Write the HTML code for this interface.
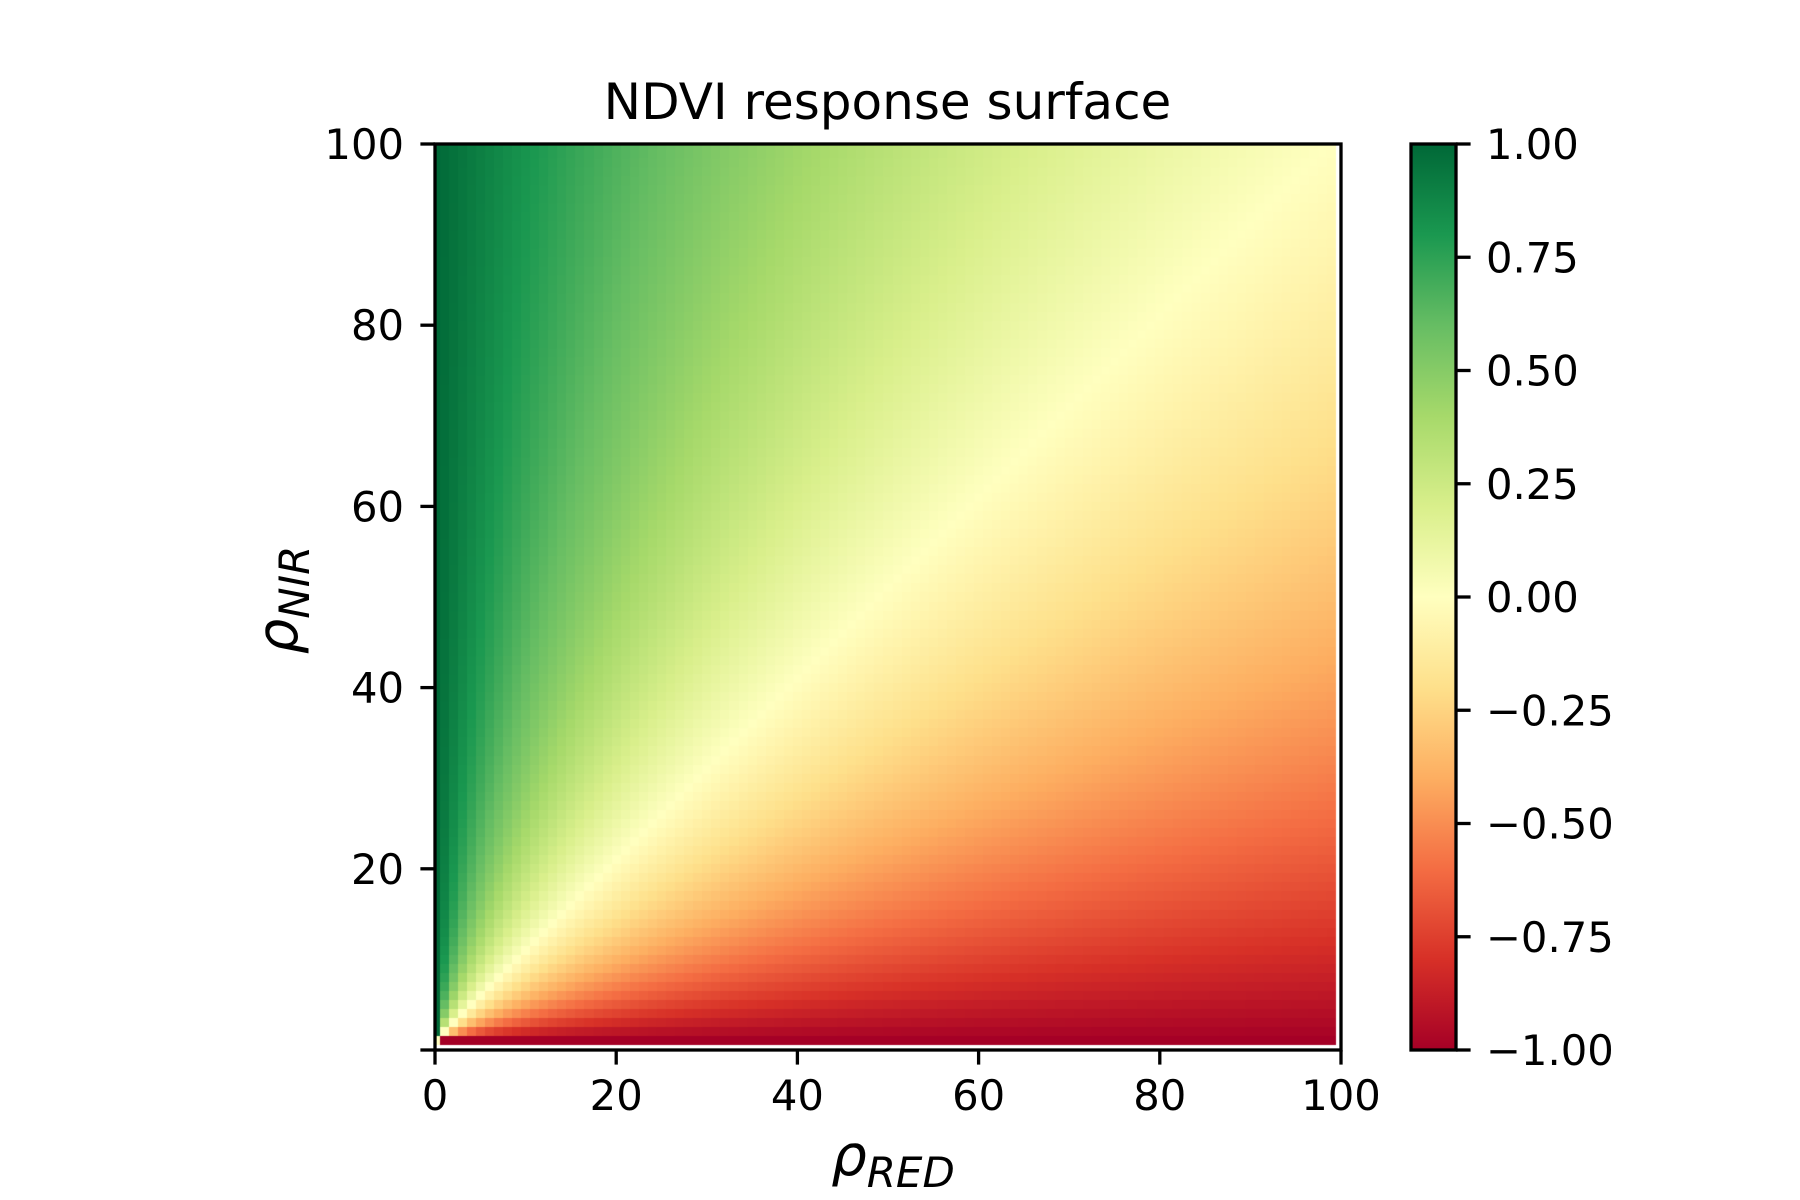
<!DOCTYPE html>
<html><head><meta charset="utf-8">
<style>
html,body{margin:0;padding:0;background:#fff;}
#wrap{position:relative;width:1800px;height:1200px;overflow:hidden;background:#fff;}
canvas{position:absolute;left:0;top:0;}
svg{position:absolute;left:0;top:0;}
text{font-family:"DejaVu Sans","Liberation Sans",sans-serif;fill:#000;}
</style></head>
<body><div id="wrap">
<canvas id="c" width="1800" height="1200"></canvas>
<svg width="1800" height="1200" viewBox="0 0 1800 1200">
<defs>
<linearGradient id="cm" x1="0" y1="1" x2="0" y2="0">
<stop offset="0" stop-color="#a50026"/><stop offset="0.1" stop-color="#d73027"/>
<stop offset="0.2" stop-color="#f46d43"/><stop offset="0.3" stop-color="#fdae61"/>
<stop offset="0.4" stop-color="#fee08b"/><stop offset="0.5" stop-color="#ffffbf"/>
<stop offset="0.6" stop-color="#d9ef8b"/><stop offset="0.7" stop-color="#a6d96a"/>
<stop offset="0.8" stop-color="#66bd63"/><stop offset="0.9" stop-color="#1a9850"/>
<stop offset="1" stop-color="#006837"/>
</linearGradient>
</defs>
<text x="887.5" y="119" font-size="50" text-anchor="middle">NDVI response surface</text>
<rect x="435" y="144" width="906" height="906" fill="none" stroke="#000" stroke-width="3.3"/>
<g stroke="#000" stroke-width="3.3" id="ticks"></g>
<g font-size="41.7" id="labels"></g>
<rect x="1411" y="144" width="45" height="906" fill="url(#cm)" stroke="#000" stroke-width="3.3"/>
<text x="893" y="1175" font-size="56" font-style="italic" text-anchor="middle">ρ<tspan font-size="42" dy="12">RED</tspan></text>
<text transform="translate(297,600) rotate(-90)" font-size="56" font-style="italic" text-anchor="middle">ρ<tspan font-size="42" dy="12">NIR</tspan></text>
</svg>
</div>
<script>
function lerp(a,b,t){return a+(b-a)*t;}
var stops=["#a50026","#d73027","#f46d43","#fdae61","#fee08b","#ffffbf","#d9ef8b","#a6d96a","#66bd63","#1a9850","#006837"].map(function(h){return [parseInt(h.substr(1,2),16),parseInt(h.substr(3,2),16),parseInt(h.substr(5,2),16)];});
function cmap(v){var t=(v+1)/2;t=Math.max(0,Math.min(1,t));var f=t*10;var i=Math.min(9,Math.floor(f));var u=f-i;var a=stops[i],b=stops[i+1];
return "rgb("+Math.round(lerp(a[0],b[0],u))+","+Math.round(lerp(a[1],b[1],u))+","+Math.round(lerp(a[2],b[2],u))+")";}
var cv=document.getElementById('c').getContext('2d');
var s=9.06,x0=435,y0=1050;
for(var k=0;k<100;k++){for(var j=0;j<100;j++){
 var v=(k+j)===0?0:(k-j)/(k+j);
 var L=x0+(j-0.5)*s,R=x0+(j+0.5)*s;if(L<x0)L=x0;
 var B=y0-(k+0.5)*s,T=y0-(k+1.5)*s;if(T<144)T=144;
 var l=Math.round(L),r=Math.round(R),t=Math.round(T),b=Math.round(B);
 cv.fillStyle=cmap(v);cv.fillRect(l,t,r-l,b-t);
}}
var NS="http://www.w3.org/2000/svg";
var tg=document.getElementById('ticks'),lg=document.getElementById('labels');
function line(x1,y1,x2,y2){var e=document.createElementNS(NS,'line');e.setAttribute('x1',x1);e.setAttribute('y1',y1);e.setAttribute('x2',x2);e.setAttribute('y2',y2);tg.appendChild(e);}
function txt(x,y,s,anchor){var e=document.createElementNS(NS,'text');e.setAttribute('x',x);e.setAttribute('y',y);e.setAttribute('text-anchor',anchor);e.textContent=s;lg.appendChild(e);}
for(var v=0;v<=100;v+=20){
 var x=x0+v*s;line(x,1050,x,1064.6);txt(x,1110,String(v),'middle');
 var y=y0-v*s;line(435,y,420.4,y);if(v>0)txt(404,y+15,String(v),'end');
}
var cl=["\u22121.00","\u22120.75","\u22120.50","\u22120.25","0.00","0.25","0.50","0.75","1.00"];
for(var i=0;i<9;i++){var y=1050-i*113.25;line(1456,y,1470.6,y);txt(1486,y+15,cl[i],'start');}
</script>
</body></html>
